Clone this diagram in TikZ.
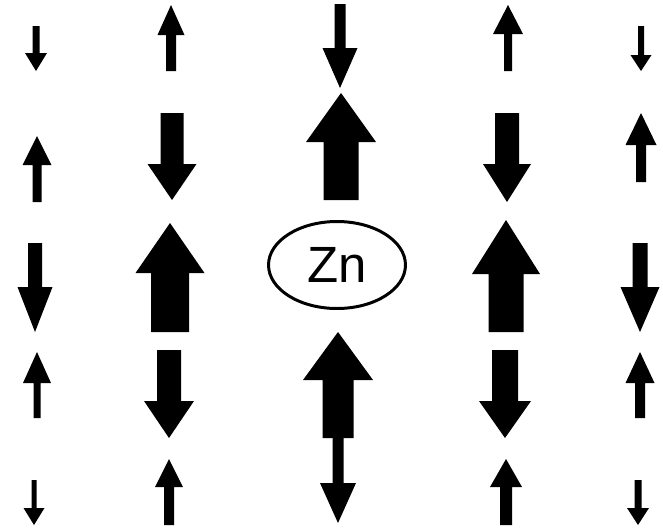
\documentclass[tikz,border=0pt]{standalone}
\usepackage{fontspec}
\setmainfont{Liberation Sans}
\usepackage{tikz}
\usetikzlibrary{shapes.geometric}

\begin{document}
\begin{tikzpicture}[x=0.02cm,y=-0.02cm]
		\useasboundingbox (0,0) rectangle (663,528);
		
		% spins: x, tail, head base, tip, half shaft, half head
		\foreach \xc/\ya/\yb/\yc/\sw/\hw in {
			36/26/53/71/3.5/11, 37/202/165/136/4.5/14.5, 35/243/287/332/7/17.5,
			37/418/383/352/3.5/14, 34/480/508/525/2.5/10.5,
			171/71/35/5/5/13.5, 172/113/164/200/11.5/24.5, 170/332/273/223/19/34.5,
			169/350/401/438/12/25, 169/525/487/459/5/14,
			340/4/48/88/5.5/17.5, 341/200/142/93/17.5/35,
			338/438/380/332/15.5/35, 338/438/483/523/5.5/18,
			508/71/34/5/4/15, 507/113/164/202/12/24, 506/332/274/220/17.5/34,
			505/350/401/438/13/26, 506/525/487/459/6/16,
			641/26/55/71/3/10.5, 641/182/145/113/5/15.5, 640/243/287/332/7.5/19.5,
			640/418/383/352/5/14.5, 638/480/508/525/3.5/11}
			\fill (\xc-\sw,\ya) -- (\xc-\sw,\yb) -- (\xc-\hw,\yb) -- (\xc,\yc)
				-- (\xc+\hw,\yb) -- (\xc+\sw,\yb) -- (\xc+\sw,\ya) -- cycle;
		
		\node[draw, ellipse, line width=1.7pt, minimum width=2.74cm, minimum height=1.74cm, inner sep=0pt, font=\fontsize{29}{32}\selectfont] (zn) at (337,265) {Zn};
	\end{tikzpicture}
\end{document}
